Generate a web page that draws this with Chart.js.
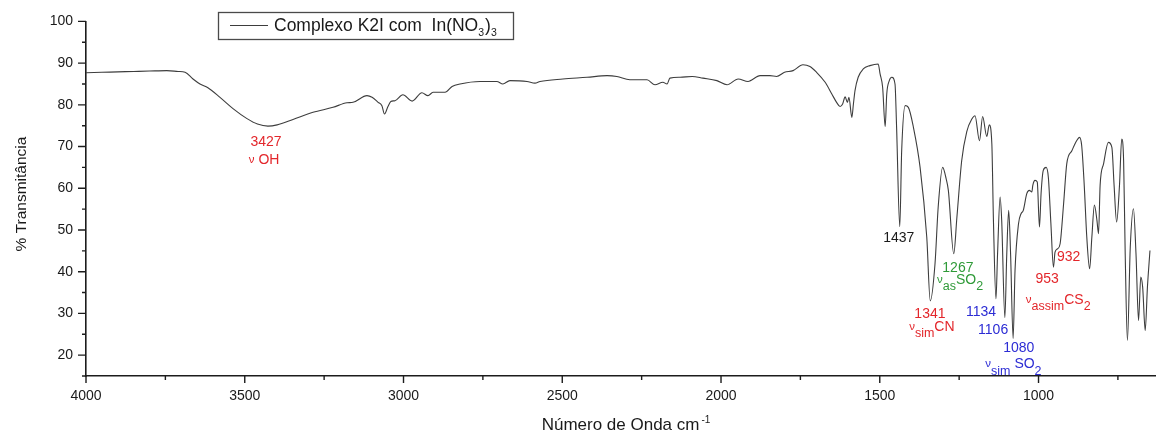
<!DOCTYPE html>
<html>
<head>
<meta charset="utf-8">
<title>Espectro IV - Complexo K2I com In(NO3)3</title>
<script src="https://cdn.jsdelivr.net/npm/chart.js@4.4.1/dist/chart.umd.min.js"></script>
<style>
  html, body { margin: 0; padding: 0; background: #ffffff; }
  #wrap { width: 1156px; height: 432px; position: relative; }
</style>
</head>
<body>
<div id="wrap"><canvas id="ir"></canvas></div>
<script>
// IR spectrum: wavenumber (cm-1) and % transmittance
const wavenumbers = [
  4000, 3950, 3900, 3850, 3800, 3746, 3710, 3688, 3663, 3641, 3616, 3578, 3537, 3493, 3460, 3427,
  3398, 3348, 3285, 3222, 3178, 3159, 3115, 3099, 3080, 3068, 3060, 3049, 3040, 3027, 3002, 2973,
  2942, 2923, 2907, 2869, 2847, 2822, 2759, 2706, 2687, 2665, 2611, 2586, 2570, 2498, 2422, 2359,
  2328, 2287, 2233, 2208, 2183, 2170, 2161, 2129, 2091, 2057, 2013, 1981, 1946, 1915, 1877, 1846,
  1825, 1800, 1773, 1742, 1720, 1699, 1672, 1651, 1636, 1625, 1617, 1609, 1602, 1597, 1588, 1583,
  1578, 1568, 1552, 1531, 1505, 1499, 1491, 1483, 1478, 1470, 1462, 1452, 1447, 1437, 1431, 1420,
  1410, 1394, 1373, 1352, 1341, 1326, 1316, 1302, 1291, 1284, 1267, 1257, 1242, 1226, 1210, 1200,
  1186, 1176, 1163, 1155, 1147, 1142, 1134, 1129, 1121, 1116, 1106, 1100, 1094, 1088, 1080, 1074,
  1063, 1055, 1048, 1037, 1029, 1021, 1018, 1011, 1004, 997, 992, 985, 976, 969, 961, 953,
  948, 940, 932, 921, 911, 895, 880, 871, 864, 856, 848, 839, 832, 824, 816, 811,
  806, 795, 780, 769, 762, 754, 745, 738, 732, 727, 720, 711, 701, 693, 685, 678,
  672, 664, 657, 649
];
const transmittance = [
  87.7, 87.8, 87.9, 88.0, 88.1, 88.2, 88.0, 87.8, 86.2, 85.0, 84.1, 81.8, 79.1, 76.7, 75.4, 74.9,
  75.2, 76.5, 78.2, 79.4, 80.5, 80.6, 82.2, 81.8, 80.6, 79.8, 77.8, 79.6, 80.8, 81.0, 82.4, 80.9,
  82.9, 82.2, 83.0, 83.0, 84.4, 85.0, 85.6, 85.6, 85.0, 85.8, 85.6, 85.2, 85.6, 86.2, 86.6, 87.0,
  86.8, 86.0, 86.0, 84.8, 85.4, 85.0, 86.4, 86.6, 86.8, 86.4, 85.8, 84.8, 86.2, 85.6, 87.0, 87.0,
  86.8, 87.8, 88.2, 89.6, 89.2, 87.8, 85.4, 82.6, 80.6, 79.6, 80.2, 81.9, 80.6, 81.8, 77.0, 80.2,
  83.4, 86.6, 88.6, 89.4, 89.8, 87.4, 84.2, 74.8, 82.6, 85.8, 86.6, 85.0, 74.6, 50.8, 69.0, 79.8,
  79.4, 74.6, 65.0, 48.3, 33.0, 41.9, 55.5, 65.0, 62.3, 59.5, 44.3, 53.1, 66.6, 73.6, 76.6, 77.4,
  71.4, 77.2, 72.4, 75.2, 70.6, 52.3, 33.5, 44.3, 57.9, 52.3, 29.0, 44.3, 54.7, 44.3, 24.0, 40.3,
  51.5, 53.9, 54.7, 58.7, 59.5, 59.1, 60.7, 61.9, 61.5, 50.7, 58.7, 64.3, 65.0, 62.6, 51.5, 41.1,
  44.7, 45.5, 46.7, 56.3, 65.9, 69.0, 71.4, 72.2, 70.2, 60.7, 48.3, 40.7, 48.3, 56.0, 52.3, 49.1,
  60.7, 65.9, 71.0, 69.8, 60.7, 51.9, 60.7, 71.8, 66.6, 44.3, 23.5, 45.9, 55.1, 44.3, 28.3, 38.7,
  36.3, 25.9, 36.3, 45.1
];

// Axis ranges and labelled ticks
const xRange = [630, 4000];
const yRange = [15, 100];
const xMajorTicks = [4000, 3500, 3000, 2500, 2000, 1500, 1000];
const yMajorTicks = [20, 30, 40, 50, 60, 70, 80, 90, 100];

const RED = '#e3262b';
const GREEN = '#2f9a38';
const BLUE = '#2c2cd4';
const BLACK = '#1a1a1a';

// Band assignments: anchor (wavenumber, %T) of each text line's centre/baseline
// parts: [text, style] with style n = normal, nu = greek letter, sub = lowered
const bandLabels = [
  { x: 3433, y: 70.1, color: RED,   parts: [['3427', 'n']] },
  { x: 3439, y: 65.9, color: RED,   parts: [['\u03BD', 'nu'], [' OH', 'n']] },
  { x: 1440, y: 47.1, color: BLACK, parts: [['1437', 'n']] },
  { x: 1254, y: 39.9, color: GREEN, parts: [['1267', 'n']] },
  { x: 1247, y: 37.1, color: GREEN, parts: [['\u03BD', 'nu'], ['as', 'sub'], ['SO', 'n'], ['2', 'sub']] },
  { x: 1342, y: 29.0, color: RED,   parts: [['1341', 'n']] },
  { x: 1336, y: 25.8, color: RED,   parts: [['\u03BD', 'nu'], ['sim', 'sub'], ['CN', 'n']] },
  { x: 1181, y: 29.3, color: BLUE,  parts: [['1134', 'n']] },
  { x: 1143, y: 25.0, color: BLUE,  parts: [['1106', 'n']] },
  { x: 1062, y: 20.7, color: BLUE,  parts: [['1080', 'n']] },
  { x: 1079, y: 16.8, color: BLUE,  parts: [['\u03BD', 'nu'], ['sim', 'sub'], [' SO', 'n'], ['2', 'sub']] },
  { x: 905,  y: 42.5, color: RED,   parts: [['932', 'n']] },
  { x: 973,  y: 37.4, color: RED,   parts: [['953', 'n']] },
  { x: 938,  y: 32.3, color: RED,   parts: [['\u03BD', 'nu'], ['assim', 'sub'], ['CS', 'n'], ['2', 'sub']] }
];

const FONT = "'Liberation Sans', Arial, Helvetica, sans-serif";
const AXIS = '#1c1c1c';
const LINE = '#3d3d3d';

const styleOf = {
  n:   { size: 14,   dy: 0 },
  nu:  { size: 11.5, dy: -1 },
  sub: { size: 12.5, dy: 6.5 }
};

function drawRich(ctx, parts, cx, baseY, color) {
  let total = 0;
  const widths = parts.map(([t, s]) => {
    ctx.font = styleOf[s].size + 'px ' + FONT;
    const w = ctx.measureText(t).width;
    total += w;
    return w;
  });
  let x = cx - total / 2;
  ctx.fillStyle = color;
  ctx.textAlign = 'left';
  ctx.textBaseline = 'alphabetic';
  parts.forEach(([t, s], i) => {
    ctx.font = styleOf[s].size + 'px ' + FONT;
    ctx.fillText(t, x, baseY + styleOf[s].dy);
    x += widths[i];
  });
}

const decorations = {
  id: 'decorations',
  afterDraw(chart) {
    const { ctx, chartArea, scales } = chart;
    const xs = scales.x, ys = scales.y;
    ctx.save();

    // tick marks (major and minor) outside the plot
    ctx.strokeStyle = AXIS;
    ctx.lineWidth = 1.4;
    ctx.beginPath();
    xs.ticks.forEach(t => {
      const px = xs.getPixelForValue(t.value);
      const len = xMajorTicks.includes(t.value) ? 7 : 4;
      ctx.moveTo(px, chartArea.bottom);
      ctx.lineTo(px, chartArea.bottom + len);
    });
    ys.ticks.forEach(t => {
      const py = ys.getPixelForValue(t.value);
      const len = yMajorTicks.includes(t.value) ? 8 : 4;
      ctx.moveTo(chartArea.left, py);
      ctx.lineTo(chartArea.left - len, py);
    });
    ctx.stroke();

    // band assignment labels
    bandLabels.forEach(l => {
      drawRich(ctx, l.parts, xs.getPixelForValue(l.x), ys.getPixelForValue(l.y), l.color);
    });

    // axis titles
    ctx.fillStyle = '#1a1a1a';
    ctx.textBaseline = 'alphabetic';
    ctx.font = '17px ' + FONT;
    const main = 'N\u00FAmero de Onda cm';
    const wMain = ctx.measureText(main).width;
    ctx.font = '10px ' + FONT;
    const wSup = ctx.measureText('-1').width;
    const cx = (chartArea.left + chartArea.right) / 2 + 5;
    const x0 = cx - (wMain + wSup + 2) / 2;
    ctx.font = '17px ' + FONT;
    ctx.textAlign = 'left';
    ctx.fillText(main, x0, 430);
    ctx.font = '10px ' + FONT;
    ctx.fillText('-1', x0 + wMain + 2, 423);

    ctx.save();
    ctx.translate(26, 194);
    ctx.rotate(-Math.PI / 2);
    ctx.font = '15.5px ' + FONT;
    ctx.textAlign = 'center';
    ctx.fillText('% Transmit\u00E2ncia', 0, 0);
    ctx.restore();

    // legend box
    const bx = 218.5, by = 12.5, bw = 295, bh = 27;
    ctx.fillStyle = '#ffffff';
    ctx.fillRect(bx, by, bw, bh);
    ctx.strokeStyle = '#4a4a4a';
    ctx.lineWidth = 1.3;
    ctx.strokeRect(bx, by, bw, bh);
    ctx.strokeStyle = LINE;
    ctx.lineWidth = 1.1;
    ctx.beginPath();
    ctx.moveTo(230, 25.5);
    ctx.lineTo(268, 25.5);
    ctx.stroke();
    ctx.fillStyle = '#1a1a1a';
    ctx.textAlign = 'left';
    let lx = 274;
    const seg = [['Complexo K2I com  In(NO', 17.5, 0], ['3', 10.5, 5], [')', 17.5, 0], ['3', 10.5, 5]];
    seg.forEach(([t, s, dy]) => {
      ctx.font = s + 'px ' + FONT;
      ctx.fillText(t, lx, 30.5 + dy);
      lx += ctx.measureText(t).width + (s < 12 ? 1 : 0);
    });

    ctx.restore();
  }
};

const points = wavenumbers.map((w, i) => ({ x: w, y: transmittance[i] }));

new Chart(document.getElementById('ir'), {
  type: 'line',
  data: {
    datasets: [{
      label: 'Complexo K2I com In(NO3)3',
      data: points,
      borderColor: LINE,
      borderWidth: 1.1,
      pointRadius: 0,
      fill: false,
      cubicInterpolationMode: 'monotone'
    }]
  },
  options: {
    responsive: true,
    maintainAspectRatio: false,
    animation: false,
    layout: { padding: { top: 21, right: 0, bottom: 0, left: 0 } },
    plugins: {
      legend: { display: false },
      tooltip: { enabled: false }
    },
    scales: {
      x: {
        type: 'linear',
        reverse: true,
        min: xRange[0],
        max: xRange[1],
        afterFit: s => { s.height = 56; },
        grid: { display: true, drawOnChartArea: false, drawTicks: false },
        border: { display: true, color: AXIS, width: 1.6 },
        ticks: {
          stepSize: 250,
          includeBounds: false,
          autoSkip: false,
          maxRotation: 0,
          padding: 12,
          color: '#1a1a1a',
          font: { family: FONT, size: 14 },
          callback: v => xMajorTicks.includes(v) ? String(v) : ''
        }
      },
      y: {
        type: 'linear',
        min: yRange[0],
        max: yRange[1],
        afterFit: s => { s.width = 86; },
        grid: { display: true, drawOnChartArea: false, drawTicks: false },
        border: { display: true, color: AXIS, width: 1.6 },
        ticks: {
          stepSize: 5,
          autoSkip: false,
          padding: 13,
          color: '#1a1a1a',
          font: { family: FONT, size: 14 },
          callback: v => yMajorTicks.includes(v) ? String(v) : ''
        }
      }
    }
  },
  plugins: [decorations]
});
</script>
</body>
</html>
